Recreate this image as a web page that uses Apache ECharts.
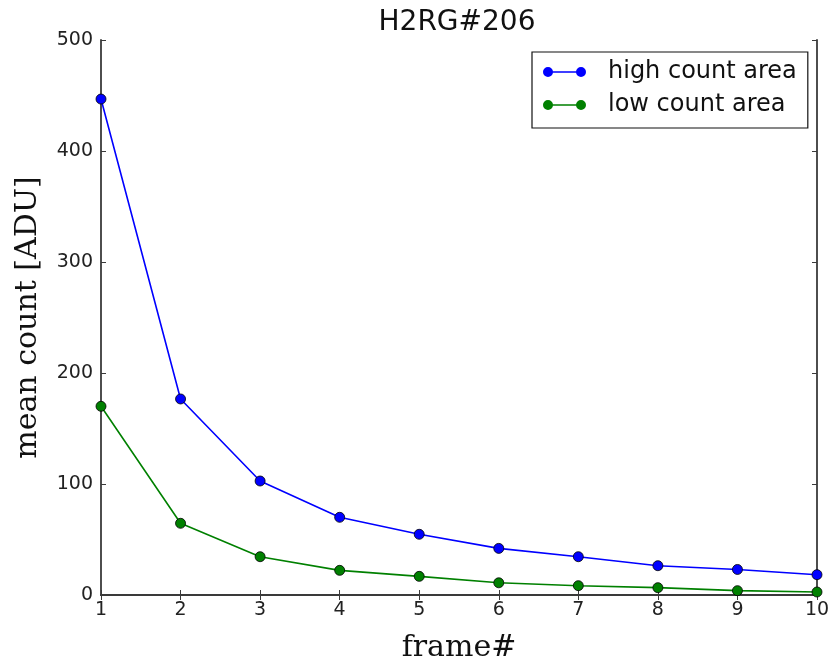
<!DOCTYPE html>
<html>
<head>
<meta charset="utf-8">
<script src="https://cdn.jsdelivr.net/npm/echarts@6/dist/echarts.min.js"></script>
<style>html,body{margin:0;padding:0;background:#fff}#c{width:829px;height:662px}</style>
</head>
<body>
<div id="c"></div>
<script>
const frames = [1, 2, 3, 4, 5, 6, 7, 8, 9, 10];
const highCount = [446.8, 176.6, 102.7, 70.0, 54.7, 42.0, 34.5, 26.4, 23.0, 18.3];
const lowCount = [170.0, 64.6, 34.5, 22.2, 16.8, 11.0, 8.4, 6.6, 3.9, 2.7];
const xTicks = [1, 10, 1];
const yTicks = [0, 500, 100];

const legendIcon = 'path://M0,5A5,5,0,1,1,10,5A5,5,0,1,1,0,5Z M9,4.2L34,4.2L34,5.8L9,5.8Z M33,5A5,5,0,1,1,43,5A5,5,0,1,1,33,5Z';

const chart = echarts.init(document.getElementById('c'));
const axisLine = {show: true, lineStyle: {color: '#3a3a3a', width: 1.8}};
const tickStyle = {show: true, inside: true, length: 5, lineStyle: {color: '#3a3a3a', width: 1}};
const labelStyle = {color: '#222', fontSize: 19, fontFamily: 'DejaVu Sans'};
chart.setOption({
  animation: false,
  title: {text: 'H2RG#206', left: 452, top: 4, textAlign: 'center',
    textStyle: {fontSize: 28, fontWeight: 'normal', color: '#111', fontFamily: 'DejaVu Sans'}},
  grid: {left: 101, right: 12, top: 40, bottom: 67, outerBoundsMode: 'none', containLabel: false},
  legend: {
    left: 532, top: 52, orient: 'vertical',
    data: [{name: 'high count area', icon: legendIcon}, {name: 'low count area', icon: legendIcon}],
    borderColor: '#111', borderWidth: 1.2, padding: [8, 11, 11, 11],
    itemWidth: 43, itemHeight: 10, itemGap: 9, symbolKeepAspect: false,
    itemStyle: {borderWidth: 0},
    textStyle: {fontSize: 24, color: '#111', fontFamily: 'DejaVu Sans', padding: [0, 0, 0, 17]}
  },
  xAxis: [
    {type: 'value', min: xTicks[0], max: xTicks[1], interval: xTicks[2],
     name: 'frame#', nameLocation: 'middle', nameGap: 38,
     nameTextStyle: {fontSize: 30, fontFamily: 'DejaVu Serif', color: '#111'},
     axisLine, axisTick: tickStyle, axisLabel: {...labelStyle, margin: 6}, splitLine: {show: false}},
    {type: 'value', position: 'top', min: xTicks[0], max: xTicks[1], interval: xTicks[2],
     axisLine, axisTick: tickStyle, axisLabel: {show: false}, splitLine: {show: false}}
  ],
  yAxis: [
    {type: 'value', min: yTicks[0], max: yTicks[1], interval: yTicks[2],
     name: 'mean count [ADU]', nameLocation: 'middle', nameGap: 58,
     nameTextStyle: {fontSize: 30, fontFamily: 'DejaVu Serif', color: '#111'},
     axisLine, axisTick: tickStyle, axisLabel: {...labelStyle, margin: 8}, splitLine: {show: false}},
    {type: 'value', position: 'right', min: yTicks[0], max: yTicks[1], interval: yTicks[2],
     axisLine, axisTick: tickStyle, axisLabel: {show: false}, splitLine: {show: false}}
  ],
  series: [
    {name: 'high count area', type: 'line', data: frames.map((f, i) => [f, highCount[i]]),
     symbol: 'circle', symbolSize: 10, color: '#0000ff',
     lineStyle: {color: '#0000ff', width: 1.6},
     itemStyle: {color: '#0000ff', borderColor: '#000', borderWidth: 0.8}, z: 3},
    {name: 'low count area', type: 'line', data: frames.map((f, i) => [f, lowCount[i]]),
     symbol: 'circle', symbolSize: 10, color: '#008000',
     lineStyle: {color: '#008000', width: 1.6},
     itemStyle: {color: '#008000', borderColor: '#000', borderWidth: 0.8}, z: 3}
  ]
});
</script>
</body>
</html>
